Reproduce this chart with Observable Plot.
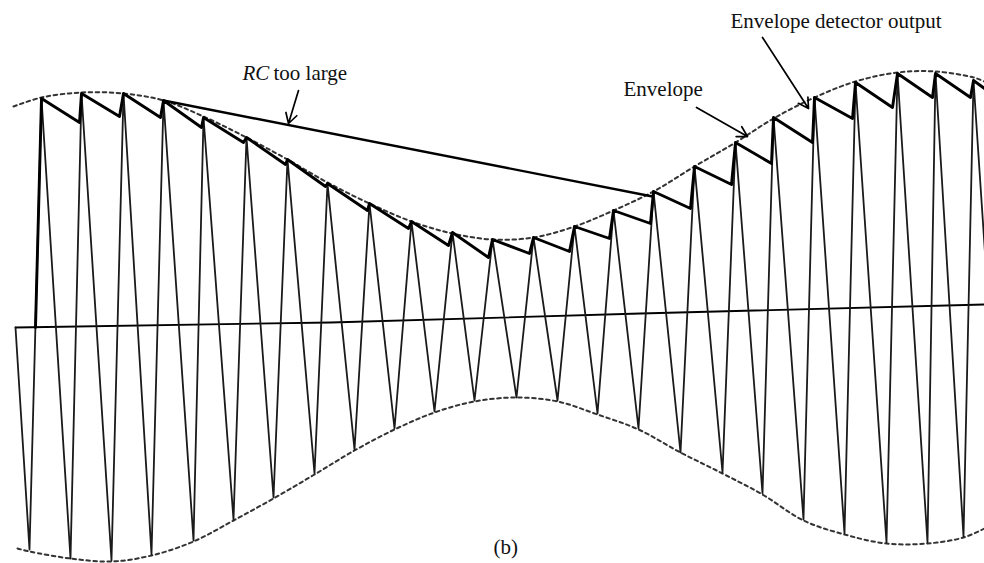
<!DOCTYPE html>
<html>
<head>
<meta charset="utf-8">
<script src="https://cdn.jsdelivr.net/npm/d3@7"></script>
<script src="https://cdn.jsdelivr.net/npm/@observablehq/plot@0.6"></script>
<style>
  html, body { margin: 0; padding: 0; background: #fff; }
  #chart svg { display: block; }
</style>
</head>
<body>
<div id="chart"></div>
<script>
// Values (horizontal position t, vertical position v, page-like units, v grows downward)
const carrierStart = [15, 327];
const carrierEnd = [1003, 530];
const peakT   = [41, 81, 123, 163, 203, 246, 287, 327, 369, 411, 452, 492, 533, 574, 613, 653, 694, 735, 773, 814, 855, 897, 935, 973];
const peakV   = [98, 93, 93, 100, 117, 137, 159, 183, 203, 221, 232, 239, 237, 226, 210, 191, 166, 142, 117, 97, 82, 73, 73, 80];
const troughT = [29, 70, 111, 151, 193, 233, 273, 314, 354, 394, 434, 474, 516, 557, 597, 638, 680, 722, 762, 803, 844, 886, 927, 963];
const troughV = [549, 558, 560, 554, 540, 519, 497, 473, 449, 428, 411, 400, 397, 400, 413, 428, 452, 472, 493, 519, 533, 542, 542, 536];

const detT = [35, 41, 79, 81, 119, 123, 160, 163, 201, 203, 243, 246, 285, 287, 325, 327, 367, 369, 408, 411, 448, 452, 488, 492, 529, 533, 569, 574, 609, 613, 650, 653, 690, 694, 731, 735, 771, 773, 812, 814, 852, 855, 892, 897, 932, 935, 970, 973, 984];
const detV = [327, 98, 122, 93, 116, 93, 117, 100, 127, 117, 142, 137, 164, 159, 186, 183, 210, 203, 228, 221, 245, 232, 257, 239, 253, 237, 251, 226, 238, 210, 223, 191, 208, 166, 184, 142, 163, 117, 142, 97, 118, 82, 107, 73, 97, 73, 97, 80, 88];

const rcT = [163, 652];
const rcV = [100, 196];

const envTopT = [13, 41, 81, 123, 163, 203, 246, 287, 327, 369, 411, 452, 492, 533, 574, 613, 653, 694, 735, 773, 814, 855, 897, 935, 973, 984];
const envTopV = [106, 97, 92, 93, 100, 116, 137, 159, 182, 203, 221, 233, 239, 237, 226, 210, 191, 166, 142, 118, 97, 81, 72, 71, 77, 81];
const envBotT = [17, 29, 70, 111, 151, 193, 233, 273, 314, 354, 394, 434, 474, 516, 557, 597, 638, 680, 722, 762, 803, 844, 886, 927, 963, 984];
const envBotV = [548, 551, 558, 561, 555, 541, 520, 498, 474, 450, 429, 412, 401, 397, 401, 414, 429, 452, 473, 494, 520, 534, 543, 543, 537, 528];

const axisT = [15, 330, 640, 984];
const axisV = [327, 322, 313, 304];

const labelText = ["too large", "Envelope", "Envelope detector output", "(b)"];
const labelT = [273, 623, 730, 493];
const labelV = [79, 95, 27, 553];
const italicText = ["RC"];
const italicT = [242];
const italicV = [79];

const arrowT1 = [298, 696, 762];
const arrowV1 = [90, 107, 37];
const arrowT2 = [288, 747, 808];
const arrowV2 = [123, 136, 108];

// Build tables from the arrays
const carrier = [{t: carrierStart[0], v: carrierStart[1]}];
peakT.forEach((_, i) => {
  carrier.push({t: troughT[i], v: troughV[i]});
  carrier.push({t: peakT[i], v: peakV[i]});
});
carrier.push({t: carrierEnd[0], v: carrierEnd[1]});
const zip = (T, V) => T.map((t, i) => ({t, v: V[i]}));
const detector = zip(detT, detV);
const rcLine = zip(rcT, rcV);
const envTop = zip(envTopT, envTopV);
const envBot = zip(envBotT, envBotV);
const axisLine = zip(axisT, axisV);
const labels = labelText.map((s, i) => ({s, t: labelT[i], v: labelV[i]}));
const italics = italicText.map((s, i) => ({s, t: italicT[i], v: italicV[i]}));
const arrows = arrowT1.map((_, i) => ({t1: arrowT1[i], v1: arrowV1[i], t2: arrowT2[i], v2: arrowV2[i]}));

const font = "'Liberation Serif', 'DejaVu Serif', serif";

const chart = Plot.plot({
  width: 984,
  height: 563,
  margin: 0,
  style: {background: "#fff", fontFamily: font},
  x: {domain: [0, 984], axis: null},
  y: {domain: [563, 0], axis: null},
  marks: [
    Plot.line(axisLine, {x: "t", y: "v", stroke: "#000", strokeWidth: 1.8}),
    Plot.line(envTop, {x: "t", y: "v", curve: "catmull-rom", stroke: "#333", strokeWidth: 2, strokeDasharray: "3.5,3.5", clip: true}),
    Plot.line(envBot, {x: "t", y: "v", curve: "catmull-rom", stroke: "#333", strokeWidth: 2, strokeDasharray: "3.5,3.5", clip: true}),
    Plot.line(carrier, {x: "t", y: "v", stroke: "#1a1a1a", strokeWidth: 1.8, strokeLinejoin: "round", clip: true}),
    Plot.line(rcLine, {x: "t", y: "v", stroke: "#000", strokeWidth: 2.4}),
    Plot.line(detector, {x: "t", y: "v", stroke: "#000", strokeWidth: 2.9, strokeLinejoin: "round", clip: true}),
    Plot.arrow(arrows, {x1: "t1", y1: "v1", x2: "t2", y2: "v2", stroke: "#000", strokeWidth: 1.7, headLength: 10}),
    Plot.text(italics, {x: "t", y: "v", text: "s", textAnchor: "start", lineAnchor: "bottom", fontSize: 21, fontStyle: "italic", fontFamily: font, fill: "#111"}),
    Plot.text(labels, {x: "t", y: "v", text: "s", textAnchor: "start", lineAnchor: "bottom", fontSize: 21, fontFamily: font, fill: "#111"})
  ]
});
document.getElementById("chart").appendChild(chart);
</script>
</body>
</html>
